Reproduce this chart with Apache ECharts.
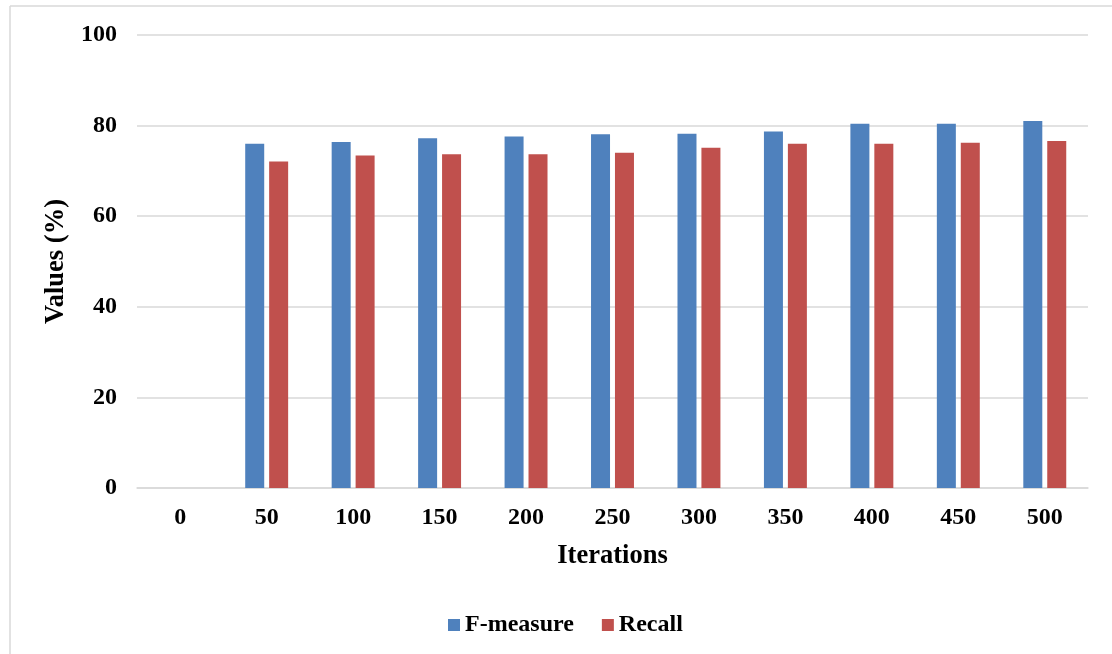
<!DOCTYPE html>
<html>
<head>
<meta charset="utf-8">
<script src="https://cdn.jsdelivr.net/npm/echarts@6/dist/echarts.min.js"></script>
<style>html,body{margin:0;padding:0;background:#fff}#c{width:1112px;height:654px}</style>
</head>
<body>
<div id="c"></div>
<script>
var categories = ['0','50','100','150','200','250','300','350','400','450','500'];
var fMeasure = [null, 76.0, 76.4, 77.2, 77.6, 78.1, 78.2, 78.7, 80.4, 80.4, 81.0];
var recall   = [null, 72.1, 73.4, 73.7, 73.7, 74.0, 75.1, 76.0, 76.0, 76.2, 76.6];
var yTicks = [0, 20, 40, 60, 80, 100];

var font = '"Liberation Serif", "Times New Roman", serif';
var chart = echarts.init(document.getElementById('c'), null, {renderer: 'canvas'});
chart.setOption({
  animation: false,
  backgroundColor: '#ffffff',
  textStyle: {fontFamily: font},
  grid: {left: 137, right: 24, top: 35, bottom: 166},
  graphic: [
    {type: 'line', shape: {x1: 10, y1: 6, x2: 1112, y2: 6}, style: {stroke: '#d9d9d9', lineWidth: 1.5}},
    {type: 'line', shape: {x1: 10, y1: 6, x2: 10, y2: 654}, style: {stroke: '#d9d9d9', lineWidth: 1.5}}
  ],
  legend: {
    left: 448, top: 613, padding: 0,
    itemWidth: 12, itemHeight: 12, itemGap: 28,
    icon: 'rect',
    textStyle: {fontFamily: font, fontWeight: 'bold', fontSize: 24, color: '#000'},
    data: ['F-measure', 'Recall']
  },
  xAxis: {
    type: 'category',
    data: categories,
    name: 'Iterations',
    nameLocation: 'middle',
    nameGap: 55,
    nameTextStyle: {fontFamily: font, fontWeight: 'bold', fontSize: 26.5, color: '#000'},
    axisLine: {lineStyle: {color: '#d9d9d9', width: 1.5}},
    axisTick: {show: false},
    axisLabel: {fontFamily: font, fontWeight: 'bold', fontSize: 24, color: '#000', margin: 18}
  },
  yAxis: {
    type: 'value',
    min: 0, max: 100, interval: 20,
    name: 'Values (%)',
    nameLocation: 'middle',
    nameGap: 62,
    nameTextStyle: {fontFamily: font, fontWeight: 'bold', fontSize: 26.5, color: '#000'},
    axisLine: {show: false},
    axisTick: {show: false},
    axisLabel: {fontFamily: font, fontWeight: 'bold', fontSize: 24, color: '#000', margin: 20,
      formatter: function (v) { return yTicks.indexOf(v) >= 0 ? String(v) : ''; }},
    splitLine: {lineStyle: {color: '#d9d9d9', width: 1.5}}
  },
  series: [
    {name: 'F-measure', type: 'bar', data: fMeasure, barWidth: 19, barGap: '26%',
      itemStyle: {color: '#4F81BD'}},
    {name: 'Recall', type: 'bar', data: recall, barWidth: 19, barGap: '26%',
      itemStyle: {color: '#C0504D'}}
  ]
});
</script>
</body>
</html>
